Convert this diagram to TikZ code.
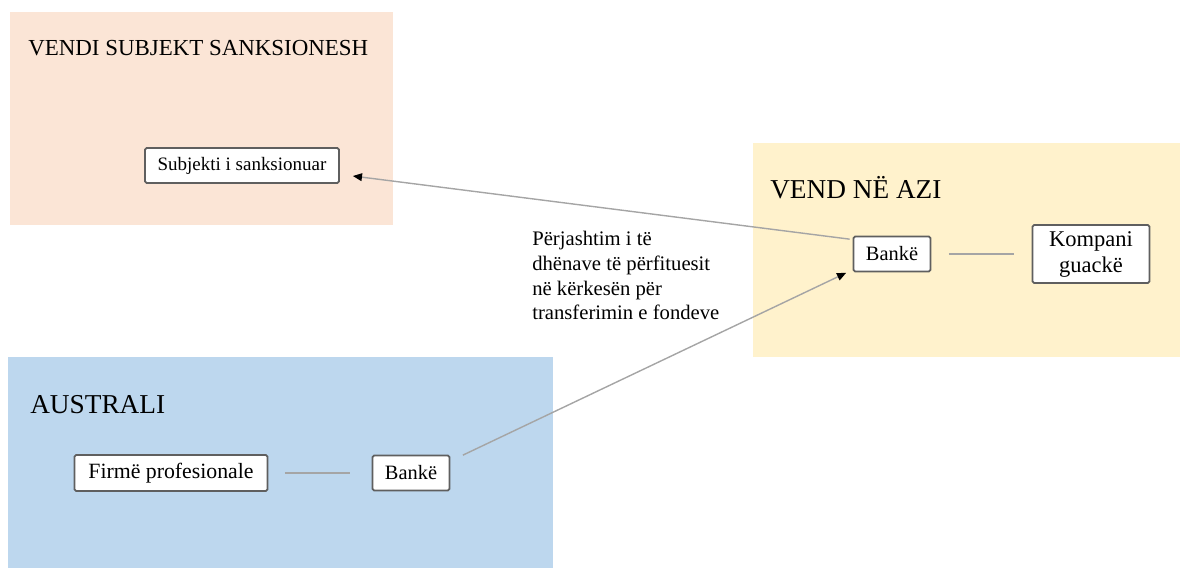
\documentclass[tikz,border=0pt]{standalone}
\usepackage{fontspec}
\setmainfont{Liberation Serif}
\usetikzlibrary{calc,arrows.meta}

\definecolor{sankpink}{RGB}{251,229,214}
\definecolor{azyellow}{RGB}{255,242,204}
\definecolor{ausblue}{RGB}{189,215,238}
\definecolor{linkgray}{RGB}{165,165,165}
\definecolor{boxrim}{RGB}{95,95,95}

\begin{document}
\begin{tikzpicture}[x=0.025cm, y=-0.025cm,
    entity/.style={draw=boxrim, line width=1.2pt, fill=white, rounded corners=1.2pt, inner sep=0pt},
    region/.style={anchor=base west, inner sep=0pt},
    link/.style={draw=linkgray, line width=1pt},
    flow/.style={link, -{Triangle[length=6.5pt, width=5.5pt, black]}}]
    \useasboundingbox (0,0) rectangle (1180,568);

    % country areas
    \fill[sankpink] (10,12) rectangle (393,225);
    \fill[azyellow] (753,143) rectangle (1180,357);
    \fill[ausblue] (8,357) rectangle (553,568);

    \node (VS) at (28,55) [region, font=\fontsize{16.3}{19}\selectfont] {VENDI SUBJEKT SANKSIONESH};
    \node (VA) at (770,198) [region, font=\fontsize{19.4}{23}\selectfont] {VEND NË AZI};
    \node (AU) at (30,413) [region, font=\fontsize{19.4}{23}\selectfont] {AUSTRALI};

    % entities
    \node (SUB) at (242,165.5) [entity, minimum width=4.85cm, minimum height=0.875cm,
        font=\fontsize{13.5}{16}\selectfont] {Subjekti i sanksionuar};
    \node (BA) at (892,254) [entity, minimum width=1.925cm, minimum height=0.875cm,
        font=\fontsize{14.5}{17}\selectfont] {Bankë};
    \node (KG) at (1091,254) [entity, minimum width=2.925cm, minimum height=1.45cm, align=center,
        font=\fontsize{16}{18.5}\selectfont] {Kompani\\guackë};
    \node (FP) at (171,473) [entity, minimum width=4.825cm, minimum height=0.9cm,
        font=\fontsize{15.5}{18}\selectfont] {Firmë profesionale};
    \node (BB) at (411,473) [entity, minimum width=1.925cm, minimum height=0.875cm,
        font=\fontsize{14.5}{17}\selectfont] {Bankë};

    \node (NOTE) at (532,231) [anchor=north west, inner sep=0pt, align=left,
        font=\fontsize{14.7}{17.6}\selectfont]
        {Përjashtim i të\\dhënave të përfituesit\\në kërkesën për\\transferimin e fondeve};

    % connections
    \draw ($(BA.north west)+(-3,3.5)$) edge[flow] ($(SUB.east)+(13,10.5)$);
    \draw ($(BB.north east)+(12.5,0.5)$) edge[flow] ($(BA.south west)+(-6.5,0.5)$);
    \draw (BA) edge[link, shorten <=0.44cm, shorten >=0.43cm] (KG);
    \draw (FP) edge[link, shorten <=0.41cm, shorten >=0.54cm] (BB);
\end{tikzpicture}
\end{document}
